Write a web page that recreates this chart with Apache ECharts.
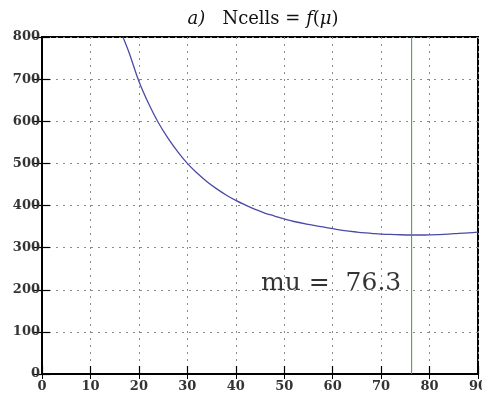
<!DOCTYPE html>
<html>
<head>
<meta charset="utf-8">
<script src="https://cdn.jsdelivr.net/npm/echarts@6/dist/echarts.min.js"></script>
<style>
  html, body { margin: 0; padding: 0; background: #fff; }
  #chart { width: 482px; height: 394px; }
</style>
</head>
<body>
<div id="chart"></div>
<script>
// Number of cells as a function of mu
var muValues = [16.7, 18, 20, 22, 24, 26, 28, 30, 32, 34, 36, 38, 40, 42, 44, 46, 48, 50,
                52, 55, 58, 60, 62, 65, 68, 70, 73, 76, 79, 82, 85, 88, 90];
var ncells   = [800, 762, 695, 642, 597, 560, 528, 500, 477, 457, 440, 425, 412, 401, 391, 382, 375, 368,
                362, 355, 349, 345, 341, 337, 334, 332, 331, 330, 330, 331, 333, 335, 337];
// Selected mu (vertical marker)
var muOpt = 76.3;
// Where the annotation sits, in data units
var notePos = [45.2, 214];
var xTicks = { min: 0, max: 90, interval: 10 };
var yTicks = { min: 0, max: 800, interval: 100 };

var curve = muValues.map(function (m, i) { return [m, ncells[i]]; });
var marker = [[muOpt, yTicks.min], [muOpt, yTicks.max]];

var serif = '"DejaVu Serif", "Liberation Serif", serif';
var gridLine = { show: true, lineStyle: { color: '#8a8a8a', type: [2, 5], width: 1 } };
var tickIn = { show: true, inside: true, length: 8, lineStyle: { color: '#000', width: 1.2 } };

var chart = echarts.init(document.getElementById('chart'));
chart.setOption({
  animation: false,
  backgroundColor: '#fff',
  title: {
    text: '{i|a)}{n|   Ncells }{n|= }{i|f}{n|(}{i|μ}{n|)}',
    left: 258, top: 5, textAlign: 'center',
    textStyle: {
      fontWeight: 'normal',
      rich: {
        i: { fontFamily: serif, fontStyle: 'italic', fontWeight: 'normal', fontSize: 18, color: '#111' },
        n: { fontFamily: serif, fontWeight: 'normal', fontSize: 18, color: '#111' }
      }
    }
  },
  grid: { left: 42, right: 4, top: 37, bottom: 20, outerBoundsMode: 'none', containLabel: false,
          show: true, borderColor: '#000', borderWidth: 2, backgroundColor: 'transparent' },
  xAxis: [
    { type: 'value', min: xTicks.min, max: xTicks.max, interval: xTicks.interval, position: 'bottom',
      axisLine: { show: true, lineStyle: { color: '#000', width: 2 } },
      axisTick: tickIn, splitLine: gridLine,
      axisLabel: { color: '#333', fontFamily: serif, fontSize: 13, fontWeight: 'bold', margin: 6, hideOverlap: false } },
    { type: 'value', min: xTicks.min, max: xTicks.max, interval: xTicks.interval, position: 'top',
      axisLine: { show: true, lineStyle: { color: '#000', width: 2 } },
      axisTick: { show: true, inside: true, length: 5, lineStyle: { color: '#000', width: 1 } },
      splitLine: { show: false }, axisLabel: { show: false } }
  ],
  yAxis: [
    { type: 'value', min: yTicks.min, max: yTicks.max, interval: yTicks.interval, position: 'left',
      axisLine: { show: true, lineStyle: { color: '#000', width: 2 } },
      axisTick: tickIn, splitLine: gridLine,
      axisLabel: { color: '#333', fontFamily: serif, fontSize: 13, fontWeight: 'bold', margin: 2 } },
    { type: 'value', min: yTicks.min, max: yTicks.max, interval: yTicks.interval, position: 'right',
      axisLine: { show: true, lineStyle: { color: '#000', width: 2 } },
      axisTick: { show: true, inside: true, length: 8, lineStyle: { color: '#000', width: 1.2 } },
      splitLine: { show: false }, axisLabel: { show: false } }
  ],
  series: [
    {
      type: 'line', data: curve, smooth: 0.4, symbol: 'none', clip: true,
      lineStyle: { color: '#4b4ba6', width: 1.3 }
    },
    {
      type: 'line', data: marker, symbol: 'none', silent: true,
      lineStyle: { color: '#3c9a3c', width: 1 }
    },
    {
      type: 'scatter', symbolSize: 0, data: [notePos], silent: true,
      label: {
        show: true, position: 'right', distance: 0,
        formatter: function () { return 'mu =  ' + muOpt.toFixed(1); },
        fontFamily: serif, fontSize: 25, color: '#000'
      }
    }
  ]
});
</script>
</body>
</html>
